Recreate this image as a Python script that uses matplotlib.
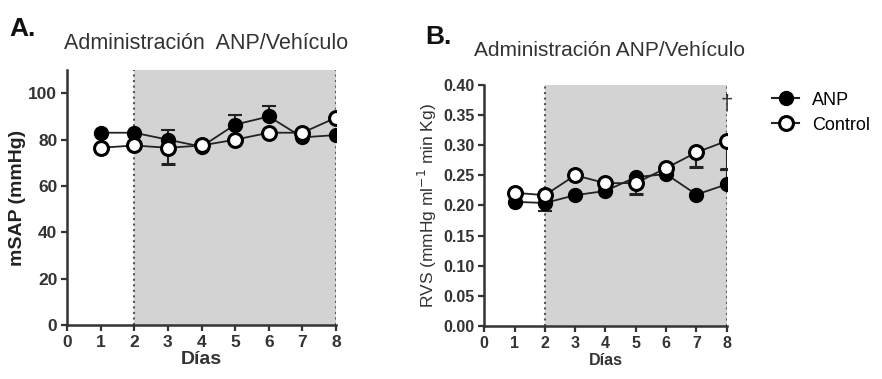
import matplotlib.pyplot as plt
from matplotlib.lines import Line2D

plt.rcParams["font.family"] = ["Liberation Sans", "DejaVu Sans"]

# ==========================
# Data
# ==========================
dias = [1, 2, 3, 4, 5, 6, 7, 8]

# Panel A: mSAP (mmHg)
msap_anp = [83, 83, 80, 77, 86.5, 90, 81, 82]
msap_anp_lo = [0, 0, 0, 0, 0, 0, 0, 0]
msap_anp_hi = [0, 0, 4, 0, 4, 4.5, 0, 0]
msap_ctrl = [76.5, 77.5, 76.5, 77.5, 80, 83, 83, 89.5]
msap_ctrl_lo = [0, 0, 7, 0, 0, 0, 0, 0]

# Panel B: RVS
rvs_anp = [0.206, 0.204, 0.217, 0.224, 0.247, 0.252, 0.218, 0.235]
rvs_anp_lo = [0, 0.014, 0, 0, 0, 0, 0, 0]
rvs_anp_hi = [0, 0, 0, 0, 0, 0, 0, 0.024]
rvs_ctrl = [0.221, 0.217, 0.250, 0.237, 0.237, 0.262, 0.288, 0.307]
rvs_ctrl_lo = [0, 0, 0, 0, 0.018, 0, 0.025, 0.046]

x_ticks = [0, 1, 2, 3, 4, 5, 6, 7, 8]
titulo = "Administración ANP/Vehículo"


def style_axes(ax, size):
    for side in ["top", "right"]:
        ax.spines[side].set_visible(False)
    for side in ["left", "bottom"]:
        ax.spines[side].set_linewidth(1.8)
        ax.spines[side].set_color("#333333")
    ax.tick_params(width=1.6, length=4, color="#333333", labelsize=size, pad=3)
    for lbl in ax.get_xticklabels() + ax.get_yticklabels():
        lbl.set_fontweight("bold")
        lbl.set_color("#333333")


def draw_series(ax, y_anp, lo_anp, hi_anp, y_ctrl, lo_ctrl):
    zeros = [0] * len(dias)
    ax.errorbar(dias, y_anp, yerr=[lo_anp, hi_anp], fmt="-o", color="#222222",
                mfc="black", mec="black", ms=10, lw=1.3, capsize=5,
                elinewidth=1.5, capthick=1.5, zorder=3)
    ax.errorbar(dias, y_ctrl, yerr=[lo_ctrl, zeros], fmt="-o", color="#222222",
                mfc="white", mec="black", mew=2.2, ms=10, lw=1.3, capsize=5,
                elinewidth=1.5, capthick=1.5, zorder=4)


def shade(ax):
    ax.axvspan(2, 8, color="#d3d3d3", zorder=0)
    ax.axvline(2, color="#555555", ls=":", lw=1.5, zorder=1)
    ax.axvline(8, color="#555555", ls=":", lw=1.5, zorder=1)


fig = plt.figure(figsize=(8.82, 3.79), dpi=100)

# ==========================
# Panel A
# ==========================
ax1 = fig.add_axes([0.076, 0.142, 0.305, 0.673])
shade(ax1)
draw_series(ax1, msap_anp, msap_anp_lo, msap_anp_hi, msap_ctrl, msap_ctrl_lo)
ax1.set_xlim(0, 8)
ax1.set_ylim(0, 110)
ax1.set_xticks(x_ticks)
ax1.set_yticks([0, 20, 40, 60, 80, 100])
ax1.set_xlabel("Días", fontsize=14, fontweight="bold", color="#333333", labelpad=1)
ax1.set_ylabel("mSAP (mmHg)", fontsize=14, fontweight="bold", color="#222222", labelpad=2)
style_axes(ax1, 12.5)

# ==========================
# Panel B
# ==========================
ax2 = fig.add_axes([0.549, 0.140, 0.275, 0.636])
shade(ax2)
draw_series(ax2, rvs_anp, rvs_anp_lo, rvs_anp_hi, rvs_ctrl, rvs_ctrl_lo)
ax2.text(8, 0.368, "†", ha="center", va="center", fontsize=16, color="#333333")
ax2.set_xlim(0, 8)
ax2.set_ylim(0, 0.40)
ax2.set_xticks(x_ticks)
ax2.set_yticks([0.0, 0.05, 0.10, 0.15, 0.20, 0.25, 0.30, 0.35, 0.40])
ax2.set_yticklabels([f"{v:.2f}" for v in ax2.get_yticks()])
ax2.set_xlabel("Días", fontsize=11.5, fontweight="bold", color="#333333", labelpad=2)
ax2.set_ylabel("RVS (mmHg ml$^{-1}$ min Kg)", fontsize=12.5, color="#333333", labelpad=3)
style_axes(ax2, 11.5)

handles = [
    Line2D([], [], color="#222222", lw=1.5, marker="o", ms=10, mfc="black", mec="black"),
    Line2D([], [], color="#222222", lw=1.5, marker="o", ms=10, mfc="white", mec="black", mew=2.2),
]
ax2.legend(handles, ["ANP", "Control"], loc="upper left", bbox_to_anchor=(1.12, 1.04),
           frameon=False, fontsize=13, handlelength=1.5, handletextpad=0.7,
           labelspacing=0.45)

# ==========================
# Titles
# ==========================
fig.text(0.011, 0.905, "A.", fontsize=19, fontweight="bold", color="#111111")
fig.text(0.072, 0.872, "Administración  ANP/Vehículo", fontsize=15.5, color="#333333")
fig.text(0.482, 0.885, "B.", fontsize=19, fontweight="bold", color="#111111")
fig.text(0.537, 0.851, titulo, fontsize=15, color="#333333")

fig.savefig("out.png", dpi=100)
